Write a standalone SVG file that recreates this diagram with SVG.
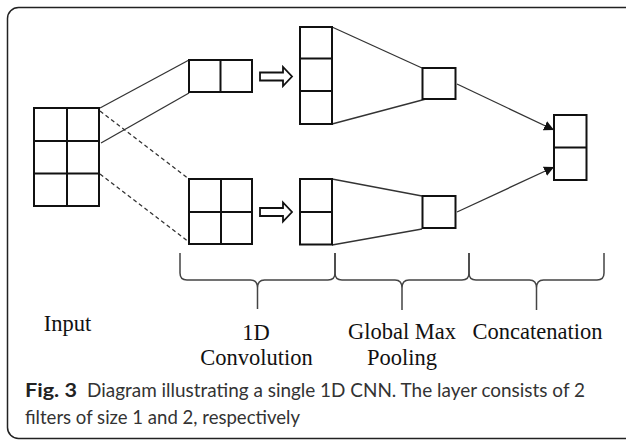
<svg xmlns="http://www.w3.org/2000/svg" width="626" height="440" viewBox="0 0 626 440">
  <defs>
    <style>
      .cell { fill: #fff; stroke: #111; stroke-width: 2; }
      .div { stroke: #111; stroke-width: 2; fill: none; }
      .link { stroke: #333; stroke-width: 1.3; fill: none; }
      .dash { stroke: #333; stroke-width: 1.3; fill: none; stroke-dasharray: 4 3; }
      .brace { stroke: #444; stroke-width: 1.5; fill: none; }
      .hollow { fill: #fff; stroke: #111; stroke-width: 1.8; stroke-linejoin: miter; }
      .lbl { font-family: "Liberation Serif", "Times New Roman", serif; font-size: 22.5px; fill: #111; text-anchor: middle; }
      .cap { font-family: Lato, "Noto Sans", sans-serif; font-size: 19px; fill: #333; }
      .capb { font-family: Lato, "Noto Sans", sans-serif; font-size: 19px; font-weight: bold; fill: #222; }
    </style>
    <marker id="tri" viewBox="0 0 10 10" refX="10" refY="5" markerWidth="10" markerHeight="10" markerUnits="userSpaceOnUse" orient="auto">
      <path d="M0,0 L10,5 L0,10 Z" fill="#111"/>
    </marker>
  </defs>

  <!-- outer frame -->
  <rect x="7.5" y="7.5" width="628" height="431" rx="11" ry="11" fill="none" stroke="#222" stroke-width="1.5"/>

  <!-- connectors -->
  <g id="connectors">
    <line class="link" x1="100" y1="108" x2="189" y2="60"/>
    <line class="link" x1="101" y1="143" x2="189" y2="93"/>
    <line class="dash" x1="100" y1="111" x2="189" y2="179"/>
    <line class="dash" x1="100" y1="174" x2="189" y2="242"/>
    <line class="link" x1="332" y1="27" x2="422" y2="68"/>
    <line class="link" x1="332" y1="124" x2="426" y2="99"/>
    <line class="link" x1="332" y1="179" x2="422" y2="196"/>
    <line class="link" x1="332" y1="245" x2="422" y2="229"/>
    <line class="link" x1="457" y1="84" x2="554" y2="130" marker-end="url(#tri)"/>
    <line class="link" x1="457" y1="212" x2="554" y2="167" marker-end="url(#tri)"/>
    <path class="hollow" d="M260,72.5 L283,72.5 L283,67 L292,76.5 L283,86 L283,80.5 L260,80.5 Z"/>
    <path class="hollow" d="M260,208 L283,208 L283,202.5 L292,212 L283,221.5 L283,216 L260,216 Z"/>
  </g>

  <!-- input matrix 3x2 -->
  <g id="input">
    <rect class="cell" x="34" y="108" width="65" height="98"/>
    <path class="div" d="M67,108 V206 M34,141 H99 M34,173.5 H99"/>
  </g>

  <!-- convolution filters -->
  <g id="conv-top">
    <rect class="cell" x="189" y="60" width="63" height="32"/>
    <path class="div" d="M220.5,60 V92"/>
  </g>
  <g id="conv-bottom">
    <rect class="cell" x="189" y="179" width="63" height="65"/>
    <path class="div" d="M221,179 V244 M189,212 H252"/>
  </g>

  <!-- feature maps -->
  <g id="map-top">
    <rect class="cell" x="300" y="27" width="32" height="97"/>
    <path class="div" d="M300,58.5 H332 M300,91 H332"/>
  </g>
  <g id="map-bottom">
    <rect class="cell" x="300" y="179" width="32" height="65.5"/>
    <path class="div" d="M300,212 H332"/>
  </g>

  <!-- pooled values -->
  <g id="pool-top">
    <rect class="cell" x="422.5" y="68" width="33" height="31"/>
  </g>
  <g id="pool-bottom">
    <rect class="cell" x="422.5" y="196" width="33" height="32"/>
  </g>

  <!-- concatenated output -->
  <g id="concat">
    <rect class="cell" x="554" y="115" width="32.5" height="65"/>
    <path class="div" d="M554,147.5 H586.5"/>
  </g>

  <!-- stage braces -->
  <g id="braces">
    <path class="brace" d="M180,253 L180,273 Q180,280 187,280 L250.5,280 Q257.5,280 257.5,288 L257.5,309 M257.5,288 Q257.5,280 264.5,280 L328,280 Q335,280 335,273 L335,253"/>
    <path class="brace" d="M335,253 L335,273 Q335,280 342,280 L395,280 Q402,280 402,288 L402,310 M402,288 Q402,280 409,280 L462,280 Q469,280 469,273 L469,253"/>
    <path class="brace" d="M469,253 L469,273 Q469,280 476,280 L529.5,280 Q536.5,280 536.5,288 L536.5,310 M536.5,288 Q536.5,280 543.5,280 L597,280 Q604,280 604,273 L604,253"/>
  </g>

  <!-- stage labels -->
  <g id="labels">
    <text class="lbl" x="67.5" y="331">Input</text>
    <text class="lbl" x="256" y="340">1D</text>
    <text class="lbl" x="256.5" y="365">Convolution</text>
    <text class="lbl" x="402" y="339">Global Max</text>
    <text class="lbl" x="402" y="365">Pooling</text>
    <text class="lbl" x="537.5" y="339">Concatenation</text>
  </g>

  <!-- caption -->
  <g id="caption">
    <text class="capb" x="25" y="397" textLength="52" lengthAdjust="spacingAndGlyphs">Fig. 3</text>
    <text class="cap" x="87" y="397" textLength="498" lengthAdjust="spacingAndGlyphs">Diagram illustrating a single 1D CNN. The layer consists of 2</text>
    <text class="cap" x="25" y="424" textLength="275" lengthAdjust="spacingAndGlyphs">filters of size 1 and 2, respectively</text>
  </g>
</svg>
